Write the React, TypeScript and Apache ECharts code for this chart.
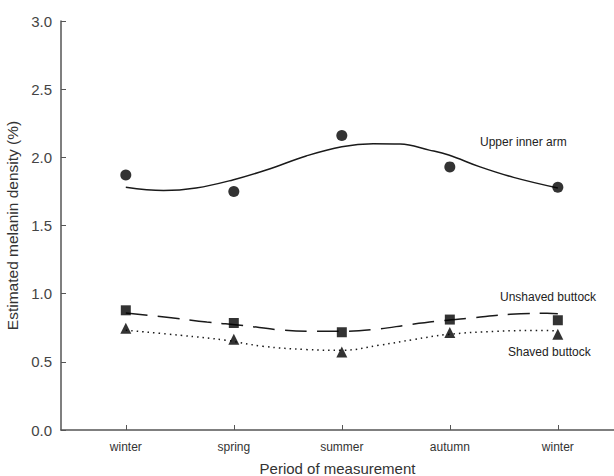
import React, { useEffect, useRef } from "react";
import * as echarts from "echarts";

const categories = ["winter", "spring", "summer", "autumn", "winter"];
const yTicks = [0, 0.5, 1, 1.5, 2, 2.5, 3];

// measured points (index = season position)
const armPoints = [1.87, 1.75, 2.16, 1.93, 1.78];
const unshavedPoints = [0.878, 0.785, 0.717, 0.81, 0.805];
const shavedPoints = [0.746, 0.666, 0.573, 0.715, 0.702];

// fitted curves: [position, value]
const armCurve: [number, number][] = [
  [0, 1.78], [0.35, 1.756], [0.65, 1.775], [0.99, 1.834], [1.3, 1.907],
  [1.67, 2.01], [2.0, 2.078], [2.29, 2.1], [2.54, 2.097], [2.81, 2.053],
  [2.99, 2.017], [3.28, 1.93], [3.59, 1.853], [4.0, 1.775],
];
const unshavedCurve: [number, number][] = [
  [0, 0.858], [0.42, 0.824], [0.75, 0.792], [1.09, 0.766], [1.43, 0.734],
  [1.73, 0.724], [2.01, 0.724], [2.32, 0.739], [2.63, 0.773], [2.91, 0.8],
  [3.2, 0.822], [3.56, 0.849], [3.9, 0.856], [4.0, 0.853],
];
const shavedCurve: [number, number][] = [
  [0, 0.732], [0.5, 0.695], [0.93, 0.658], [1.27, 0.614], [1.67, 0.59],
  [2.01, 0.585], [2.35, 0.622], [2.66, 0.663], [2.97, 0.7], [3.43, 0.724],
  [3.9, 0.73], [4.0, 0.725],
];

const seriesLabels = ["Upper inner arm", "Unshaved buttock", "Shaved buttock"];

export default function App() {
  const ref = useRef<HTMLDivElement>(null);
  useEffect(() => {
    if (!ref.current) return;
    const chart = echarts.init(ref.current, null, { renderer: "svg" });
    const positions = categories.map((_, i) => i);
    const axisColor = "#555";
    const textColor = "#333";
    const font = "'Liberation Sans', Arial, sans-serif";
    const lineColor = "#1a1a1a";
    const curve = (data: [number, number][], type: any) => ({
      type: "line",
      data,
      smooth: 0.4,
      showSymbol: false,
      symbol: "none",
      lineStyle: { color: lineColor, width: 1.5, type },
      z: 2,
    });
    const pts = (vals: number[], symbol: string, size: number) => ({
      type: "scatter",
      data: vals.map((v, i) => [positions[i], v]),
      symbol,
      symbolSize: size,
      itemStyle: { color: "#000" },
      z: 3,
    });
    chart.setOption({
      animation: false,
      backgroundColor: "#fff",
      grid: { left: 61, right: 0, top: 21, bottom: 46, containLabel: false, outerBoundsMode: "none" },
      xAxis: {
        type: "value",
        min: -0.6,
        max: 4.52,
        name: "Period of measurement",
        nameLocation: "middle",
        nameGap: 31,
        nameTextStyle: { fontSize: 15, color: textColor, fontFamily: font },
        axisLine: { show: true, onZero: false, lineStyle: { color: axisColor, width: 1.5 } },
        axisTick: {
          show: true,
          inside: true,
          length: 5,
          customValues: positions,
          lineStyle: { color: axisColor, width: 1 },
        },
        axisLabel: {
          show: true,
          customValues: positions,
          formatter: (v: number) => categories[Math.round(v)] ?? "",
          fontSize: 12,
          color: textColor,
          fontFamily: font,
          margin: 11,
        },
        splitLine: { show: false },
      },
      yAxis: {
        type: "value",
        min: 0,
        max: 3,
        interval: 0.5,
        name: "Estimated melanin density (%)",
        nameLocation: "middle",
        nameGap: 38,
        nameTextStyle: { fontSize: 15.5, color: textColor, fontFamily: font },
        axisLine: { show: true, onZero: false, lineStyle: { color: axisColor, width: 1.5 } },
        axisTick: { show: true, inside: true, length: 5, lineStyle: { color: axisColor } },
        axisLabel: {
          formatter: (v: number) => (yTicks.includes(v) ? v.toFixed(1) : ""),
          fontSize: 15,
          color: "#444",
          fontFamily: font,
          margin: 9,
        },
        splitLine: { show: false },
      },
      graphic: [
        { type: "text", x: 480, y: 142, style: { text: seriesLabels[0], fontSize: 12, fill: "#222", fontFamily: font, verticalAlign: "middle" } },
        { type: "text", x: 500, y: 297, style: { text: seriesLabels[1], fontSize: 12, fill: "#222", fontFamily: font, verticalAlign: "middle" } },
        { type: "text", x: 508, y: 352, style: { text: seriesLabels[2], fontSize: 12, fill: "#222", fontFamily: font, verticalAlign: "middle" } },
      ],
      series: [
        curve(armCurve, "solid"),
        curve(unshavedCurve, [22, 10]),
        curve(shavedCurve, [1.5, 4]),
        pts(armPoints, "circle", 11),
        pts(unshavedPoints, "rect", 10),
        pts(shavedPoints, "triangle", 11),
      ],
    });
    return () => chart.dispose();
  }, []);
  return (
    <div
      ref={ref}
      style={{ position: "absolute", left: 0, top: 0, width: 614, height: 476 }}
    />
  );
}
